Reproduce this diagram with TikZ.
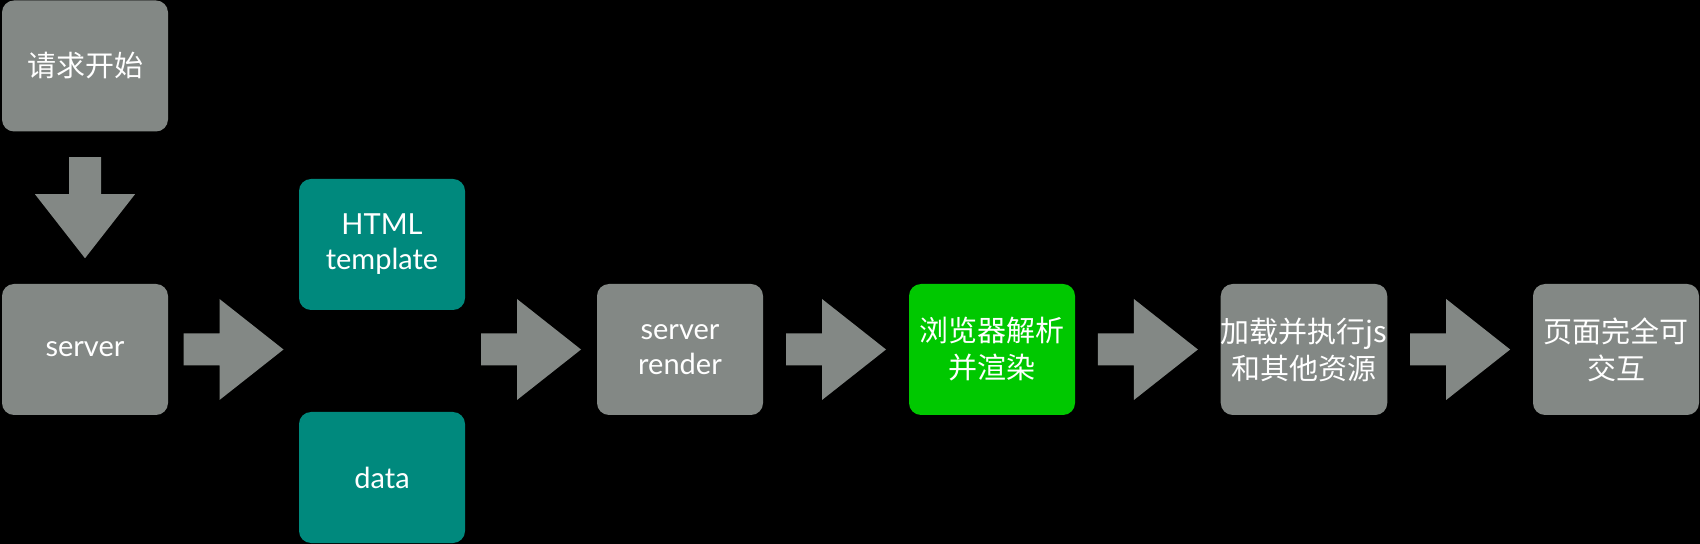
\documentclass[tikz,border=0pt]{standalone}
\usepackage{fontspec}
\setmainfont{Lato}
\newfontfamily\cjk{Noto Sans CJK SC}
\usetikzlibrary{calc}
\definecolor{boxgray}{RGB}{131,136,133}
\definecolor{boxteal}{RGB}{0,137,125}
\definecolor{boxgreen}{RGB}{0,200,0}
\tikzset{
  stage/.style={fill=boxgray,rounded corners=6pt,minimum width=83pt,minimum height=65.5pt,
    inner sep=0pt,align=center,text=white,font=\fontsize{14.5}{17.5}\selectfont},
  cnstage/.style={stage,font=\cjk\fontsize{14.5}{18.5}\selectfont},
  srcbox/.style={stage,fill=boxteal},
}
% block arrows, centred on the given point
\newcommand\blockright[1]{\fill[boxgray] (#1) ++(-50,-16) -- ++(36,0) -- ++(0,-34.5)
  -- ++(64,50.5) -- ++(-64,50.5) -- ++(0,-34.5) -- ++(-36,0) -- cycle;}
\newcommand\blockdown[1]{\fill[boxgray] (#1) ++(-16,-50.5) -- ++(0,37) -- ++(-34,0)
  -- ++(50,64) -- ++(50,-64) -- ++(-34,0) -- ++(0,-37) -- cycle;}
\begin{document}
\begin{tikzpicture}[x=0.5pt,y=-0.5pt]
 \fill[black] (0,0) rectangle (1700,544);
 \useasboundingbox (0,0) rectangle (1700,544);
 \node[cnstage] (start) at (85,66) {请求开始};
 \node[stage] (server) at (85,349.5) {server};
 \node[srcbox] (tpl) at (382,244.5) {HTML\\template};
 \node[srcbox] (data) at (382,477.5) {data};
 \node[stage] (srender) at (680,349.5) {server\\render};
 \node[cnstage,fill=boxgreen] (browser) at (992,349.5) {浏览器解析\\并渲染};
 \node[cnstage] (load) at (1304,349.5) {加载并执行js\\和其他资源};
 \node[cnstage] (done) at (1616,349.5) {页面完全可\\交互};
 \blockdown{$(start.south)!0.5!(server.north)$}
 \blockright{$(server.east)!0.5!(tpl.west |- server.east)$}
 \blockright{$(tpl.east |- srender.west)!0.5!(srender.west)$}
 \blockright{$(srender.east)!0.5!(browser.west)$}
 \blockright{$(browser.east)!0.5!(load.west)$}
 \blockright{$(load.east)!0.5!(done.west)$}
\end{tikzpicture}
\end{document}
